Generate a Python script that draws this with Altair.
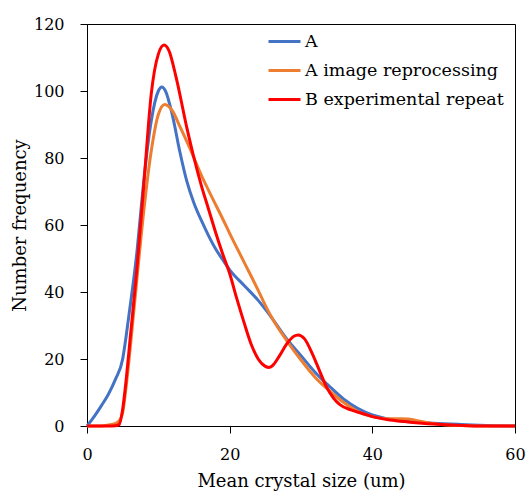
import altair as alt
import pandas as pd

# Series A
a_x = [0, 1, 2, 3, 4, 5, 5.5, 6, 6.5, 7, 7.5, 8, 9, 10, 10.5, 11, 12, 13, 14, 15, 16, 17, 18, 19, 20,
       22, 24, 26, 28, 30, 32, 34, 36, 38, 40, 42, 44, 46, 48, 50, 52, 54, 57, 60]
a_y = [0, 2.8, 6, 9.5, 14, 20, 27, 35, 43, 52, 63, 74, 91, 100, 101.2, 100, 92.5, 82, 73, 66.5, 61.5, 57, 53, 49.7, 46.6,
       42, 37.5, 32, 26, 21, 16, 11.8, 8, 5.2, 3.3, 2.2, 1.6, 1.2, 0.9, 0.7, 0.5, 0.3, 0.1, 0]

# Series A image reprocessing
b_x = [0, 2, 3, 4, 4.5, 5, 5.5, 6, 7, 8, 9, 10, 10.9, 12, 13, 14.4, 16, 17.7, 19.1, 20, 22, 24, 25, 26,
       28, 30, 32, 34, 36, 38, 40, 42, 44, 45, 46, 48, 50, 53, 56, 60]
b_y = [0, 0, 0.3, 0.8, 1.5, 4, 12, 22, 44, 65, 82, 93, 96, 94, 89.5, 83, 75, 67.5, 61.5, 57.5, 49, 40.5, 36, 32,
       25.5, 19.7, 14.5, 10.5, 7, 4.3, 2.8, 2.2, 2.2, 2.1, 1.7, 0.9, 0.4, 0.1, 0, 0]

# Series B experimental repeat
c_x = [0, 3, 4, 4.5, 5, 5.5, 6, 7, 8, 9, 10, 10.8, 11.5, 12.5, 14, 15, 16, 17, 18, 19, 20, 21, 22, 23, 24,
       25, 25.5, 26, 27, 28, 29, 29.6, 30.5, 31.5, 32.5, 33.5, 34.5, 35.5, 37, 38.5, 40, 42.5, 45, 47, 51, 55, 60]
c_y = [0, 0, 0.1, 0.4, 5, 14, 25, 47, 73, 99, 111, 113.7, 112, 104, 89, 80, 72, 65, 58, 51.5, 45.5, 38, 31, 24.5, 20,
       17.8, 17.5, 18, 21, 24.5, 26.8, 27.2, 26, 22, 17, 12, 8.5, 6.3, 4.8, 3.8, 2.8, 1.8, 1.2, 0.8, 0.3, 0, 0]

series_names = ["A", "A image reprocessing", "B experimental repeat"]
series_colors = ["#4472C4", "#ED7D31", "#FF0000"]

rows = []
for name, xs, ys in zip(series_names, [a_x, b_x, c_x], [a_y, b_y, c_y]):
    for xv, yv in zip(xs, ys):
        rows.append({"size": xv, "freq": yv, "series": name})
df = pd.DataFrame(rows)

FONT = "DejaVu Serif"

chart = alt.Chart(df).mark_line(interpolate="monotone", strokeWidth=3).encode(
    x=alt.X("size:Q", title="Mean crystal size (um)",
            scale=alt.Scale(domain=[0, 60], nice=False),
            axis=alt.Axis(values=[0, 20, 40, 60], grid=False, tickSize=7, labelFlush=False,
                          labelPadding=13, titlePadding=10)),
    y=alt.Y("freq:Q", title="Number frequency",
            scale=alt.Scale(domain=[0, 120], nice=False),
            axis=alt.Axis(values=[0, 20, 40, 60, 80, 100, 120], grid=False, tickSize=7,
                          labelFlush=False, labelPadding=16, titlePadding=4)),
    color=alt.Color("series:N", title=None,
                    scale=alt.Scale(domain=series_names, range=series_colors),
                    legend=alt.Legend(orient="none", legendX=180, legendY=0,
                                      symbolType="stroke", symbolSize=1024,
                                      symbolStrokeWidth=3, labelOffset=3,
                                      labelLimit=0, rowPadding=3,
                                      padding=0)),
    detail="series:N",
).properties(
    width=428, height=402,
    padding={"left": 87, "top": 24, "right": 11, "bottom": 67},
    autosize=alt.AutoSizeParams(type="none"),
).configure_view(
    stroke="black", strokeWidth=1
).configure_axis(
    labelFont=FONT, titleFont=FONT, labelFontSize=16, titleFontSize=18,
    labelColor="black", titleColor="black", titleFontWeight="normal",
    domainColor="black", tickColor="black",
).configure_legend(
    labelFont=FONT, labelFontSize=17.5, labelColor="black",
)

chart.save("out.html", embed_options={"renderer": "svg", "actions": False})
